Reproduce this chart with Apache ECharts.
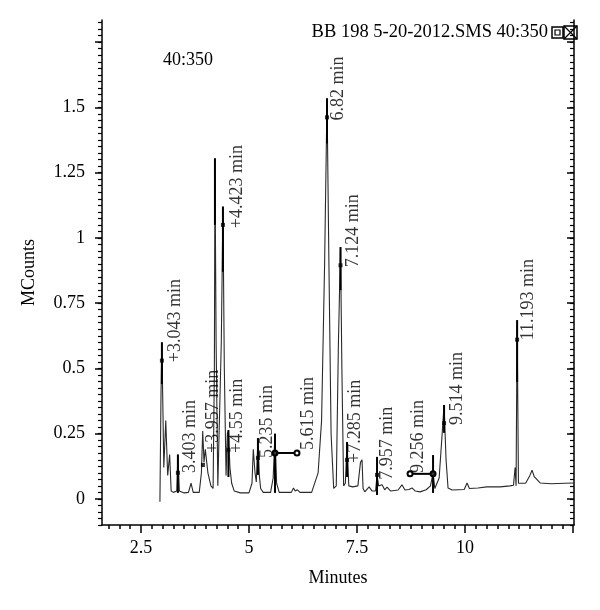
<!DOCTYPE html>
<html>
<head>
    <meta charset="utf-8">
    <script src="https://cdn.jsdelivr.net/npm/echarts@6/dist/echarts.min.js"></script>
</head>
<body style="margin:0">
    <div id="main" style="width: 600px;height:610px;"></div>

<script type="text/javascript">
    // chromatogram trace (minutes, MCounts)
    var traceTime = [2.94, 2.965, 2.985, 3.03, 3.075, 3.12, 3.165, 3.2, 3.25, 3.33, 3.356, 3.39, 3.5, 3.6, 3.66, 3.71,
        3.85, 3.9, 3.93, 3.96, 3.99, 4.05, 4.12, 4.17, 4.2, 4.213, 4.24, 4.28, 4.36, 4.398, 4.43, 4.47, 4.5, 4.525,
        4.56, 4.6, 4.66, 4.8, 5.0, 5.07, 5.1, 5.14, 5.17, 5.208, 5.24, 5.27, 5.33, 5.5, 5.56, 5.602, 5.64, 5.7,
        5.98, 6.03, 6.07, 6.12, 6.18, 6.45, 6.6, 6.68, 6.75, 6.806, 6.85, 6.9, 6.96, 7.02, 7.07, 7.118, 7.15, 7.19,
        7.23, 7.269, 7.31, 7.4, 7.52, 7.58, 7.616, 7.64, 7.68, 7.78, 7.85, 7.93, 7.963, 8.0, 8.08, 8.14, 8.194, 8.28,
        8.45, 8.54, 8.61, 8.7, 8.77, 8.85, 8.958, 9.1, 9.2, 9.259, 9.3, 9.33, 9.4, 9.47, 9.514, 9.56, 9.606, 9.7,
        9.98, 10.046, 10.1, 10.3, 10.5, 10.81, 11.04, 11.12, 11.157, 11.18, 11.204, 11.235, 11.273, 11.4, 11.5,
        11.55, 11.6, 11.736, 12.0, 12.3, 12.52];
    var traceSignal = [-0.011, 0.40, 0.60, 0.12, 0.30, 0.09, 0.17, 0.03, 0.025, 0.03, 0.17, 0.03, 0.023, 0.025, 0.06, 0.025,
        0.025, 0.10, 0.26, 0.14, 0.19, 0.10, 0.05, 0.04, 0.5, 1.305, 0.6, 0.05, 0.6, 1.12, 0.5, 0.09, 0.25, 0.26,
        0.12, 0.06, 0.03, 0.023, 0.023, 0.06, 0.19, 0.10, 0.065, 0.233, 0.09, 0.04, 0.025, 0.025, 0.08, 0.25, 0.06, 0.025,
        0.025, 0.042, 0.03, 0.035, 0.025, 0.025, 0.10, 0.30, 0.90, 1.535, 0.90, 0.25, 0.04, 0.05, 0.60, 0.965, 0.50, 0.05,
        0.06, 0.218, 0.05, 0.046, 0.05, 0.14, 0.15, 0.04, 0.027, 0.046, 0.03, 0.03, 0.092, 0.05, 0.054, 0.035, 0.045, 0.03,
        0.034, 0.054, 0.034, 0.036, 0.042, 0.03, 0.027, 0.035, 0.05, 0.10, 0.04, 0.034, 0.08, 0.25, 0.36, 0.15, 0.042, 0.034,
        0.036, 0.061, 0.04, 0.042, 0.046, 0.046, 0.05, 0.052, 0.12, 0.05, 0.685, 0.06, 0.054, 0.06, 0.09,
        0.11, 0.085, 0.061, 0.058, 0.06, 0.061];

    // peak markers: vertical bar from top to bottom, dot on the peak
    var markTime   = [2.986, 3.356, 4.213, 4.398, 4.525, 5.208, 5.602, 6.806, 7.118, 7.269, 7.963, 9.259, 9.514, 11.204];
    var markTop    = [0.60, 0.17, 1.305, 1.12, 0.264, 0.233, 0.25, 1.535, 0.965, 0.218, 0.161, 0.168, 0.36, 0.685];
    var markBottom = [0.44, 0.023, 1.05, 0.87, 0.084, 0.092, 0.023, 1.362, 0.80, 0.084, 0.015, 0.023, 0.253, 0.448];
    var dotTime  = [2.986, 3.356, 3.935, 4.398, 4.525, 5.208, 5.602, 6.806, 7.118, 7.269, 7.963, 9.259, 9.514, 11.204];
    var dotLevel = [0.53, 0.10, 0.13, 1.05, 0.188, 0.157, 0.176, 1.462, 0.895, 0.149, 0.092, 0.096, 0.29, 0.61];

    // integration bars
    var barStart = [5.602, 8.727];
    var barEnd   = [6.111, 9.259];
    var barLevel = [0.176, 0.096];

    // peak labels
    var peakLabelText  = ['+3.043 min', '3.403 min', '+3.957 min', '+4.423 min', '+4.55 min', '5.235 min', '5.615 min',
        '6.82 min', '7.124 min', '+7.285 min', '7.957 min', '9.256 min', '9.514 min', '11.193 min'];
    var peakLabelTime  = [3.287, 3.634, 4.167, 4.722, 4.722, 5.417, 6.366, 7.06, 7.407, 7.454, 8.194, 8.912, 9.815, 11.458];
    var peakLabelLevel = [0.524, 0.0995, 0.176, 1.037, 0.176, 0.157, 0.1875, 1.45, 0.888, 0.138, 0.073, 0.0995, 0.283, 0.608];

    // axes
    var xMajorTicks = [2.5, 5, 7.5, 10, 12.5];
    var xLabels = [2.5, 5, 7.5, 10];
    var yMajorTicks = [0, 0.25, 0.5, 0.75, 1, 1.25, 1.5, 1.75];
    var yLabels = [0, 0.25, 0.5, 0.75, 1, 1.25, 1.5];

    var xMinorTicks = [];
    for (var k = 7; k <= 50; k++) xMinorTicks.push(k * 0.25);
    var yMinorTicks = [];
    for (var j = -4; j <= 73; j++) yMinorTicks.push(Math.round(j * 25) / 1000);

    var font = 'Liberation Serif';
    var xMin = 1.6, xMax = 12.52, yMin = -0.1, yMax = 1.835;

    var myChart = echarts.init(document.getElementById('main'));

    var series = [];
    series.push({
        type: 'line',
        data: traceTime.map(function (t, i) { return [t, traceSignal[i]]; }),
        symbol: 'none',
        lineStyle: { color: '#2a2a2a', width: 1.1 },
        z: 2
    });
    for (var i = 0; i < markTime.length; i++) {
        series.push({
            type: 'line',
            data: [[markTime[i], markTop[i]], [markTime[i], markBottom[i]]],
            symbol: 'none',
            lineStyle: { color: '#000', width: 2 },
            z: 3
        });
    }
    for (var b = 0; b < barStart.length; b++) {
        series.push({
            type: 'line',
            data: [[barStart[b], barLevel[b]], [barEnd[b], barLevel[b]]],
            symbol: 'emptyCircle',
            symbolSize: 5,
            itemStyle: { color: '#000', borderWidth: 1.5 },
            lineStyle: { color: '#000', width: 2 },
            z: 3
        });
    }
    series.push({
        type: 'scatter',
        data: dotTime.map(function (t, i) { return [t, dotLevel[i]]; }),
        symbol: 'rect',
        symbolSize: 4,
        itemStyle: { color: '#000' },
        z: 4
    });
    series.push({
        type: 'scatter',
        data: peakLabelTime.map(function (t, i) {
            return { name: peakLabelText[i], value: [t, peakLabelLevel[i]] };
        }),
        symbolSize: 0,
        label: {
            show: true,
            formatter: '{b}',
            position: [0, 0],
            rotate: 90,
            align: 'left',
            verticalAlign: 'middle',
            color: '#000',
            fontFamily: font,
            fontSize: 18
        },
        z: 5
    });

    var option = {
        animation: false,
        backgroundColor: '#fff',
        title: [
            {
                text: 'BB 198 5-20-2012.SMS 40:350',
                right: 52, top: 23, padding: 0,
                textStyle: { fontFamily: font, fontSize: 18.5, fontWeight: 'normal', color: '#000' }
            },
            {
                text: '40:350',
                left: 163, top: 51, padding: 0,
                textStyle: { fontFamily: font, fontSize: 18, fontWeight: 'normal', color: '#000' }
            }
        ],
        graphic: [
            { type: 'rect', shape: { x: 552, y: 27, width: 11, height: 11 }, style: { fill: '#fff', stroke: '#000', lineWidth: 1.5 } },
            { type: 'rect', shape: { x: 555, y: 30, width: 5, height: 5 }, style: { fill: '#fff', stroke: '#000', lineWidth: 1.2 } },
            { type: 'rect', shape: { x: 564, y: 26, width: 13, height: 13 }, style: { fill: '#fff', stroke: '#000', lineWidth: 1.5 } },
            { type: 'line', shape: { x1: 564, y1: 26, x2: 577, y2: 39 }, style: { stroke: '#000', lineWidth: 1.2 } },
            { type: 'line', shape: { x1: 577, y1: 26, x2: 564, y2: 39 }, style: { stroke: '#000', lineWidth: 1.2 } }
        ],
        grid: { left: 102, right: 26, top: 20, bottom: 85 },
        xAxis: [
            {
                type: 'value', min: xMin, max: xMax, position: 'bottom',
                name: 'Minutes', nameLocation: 'middle', nameGap: 44,
                nameTextStyle: { fontFamily: font, fontSize: 18, color: '#000' },
                axisLine: { onZero: false, lineStyle: { color: '#000', width: 1.5 } },
                axisTick: { customValues: xMajorTicks, length: 8, lineStyle: { color: '#000', width: 1.5 } },
                axisLabel: { customValues: xLabels, margin: 14, fontFamily: font, fontSize: 18, color: '#000' },
                splitLine: { show: false }
            },
            {
                type: 'value', min: xMin, max: xMax, position: 'bottom',
                axisLine: { show: false, onZero: false },
                axisTick: { customValues: xMinorTicks, length: 4, lineStyle: { color: '#000', width: 1.5 } },
                axisLabel: { show: false },
                splitLine: { show: false }
            }
        ],
        yAxis: [
            {
                type: 'value', min: yMin, max: yMax, position: 'left',
                name: 'MCounts', nameLocation: 'middle', nameGap: 64, nameRotate: 90,
                nameTextStyle: { fontFamily: font, fontSize: 18, color: '#000' },
                axisLine: { show: true, onZero: false, lineStyle: { color: '#000', width: 1.5 } },
                axisTick: { customValues: yMajorTicks, length: 7, lineStyle: { color: '#000', width: 1.5 } },
                axisLabel: { customValues: yLabels, margin: 17, fontFamily: font, fontSize: 18, color: '#000' },
                splitLine: { show: false }
            },
            {
                type: 'value', min: yMin, max: yMax, position: 'left',
                axisLine: { show: false, onZero: false },
                axisTick: { customValues: yMinorTicks, length: 4, lineStyle: { color: '#000', width: 1.2 } },
                axisLabel: { show: false },
                splitLine: { show: false }
            },
            {
                type: 'value', min: yMin, max: yMax, position: 'right',
                axisLine: { show: true, onZero: false, lineStyle: { color: '#000', width: 1.5 } },
                axisTick: { inside: true, customValues: yMajorTicks, length: 7, lineStyle: { color: '#000', width: 1.5 } },
                axisLabel: { show: false },
                splitLine: { show: false }
            },
            {
                type: 'value', min: yMin, max: yMax, position: 'right',
                axisLine: { show: false, onZero: false },
                axisTick: { inside: true, customValues: yMinorTicks, length: 4, lineStyle: { color: '#000', width: 1.2 } },
                axisLabel: { show: false },
                splitLine: { show: false }
            }
        ],
        series: series
    };

    myChart.setOption(option);
</script>
</body>
</html>
